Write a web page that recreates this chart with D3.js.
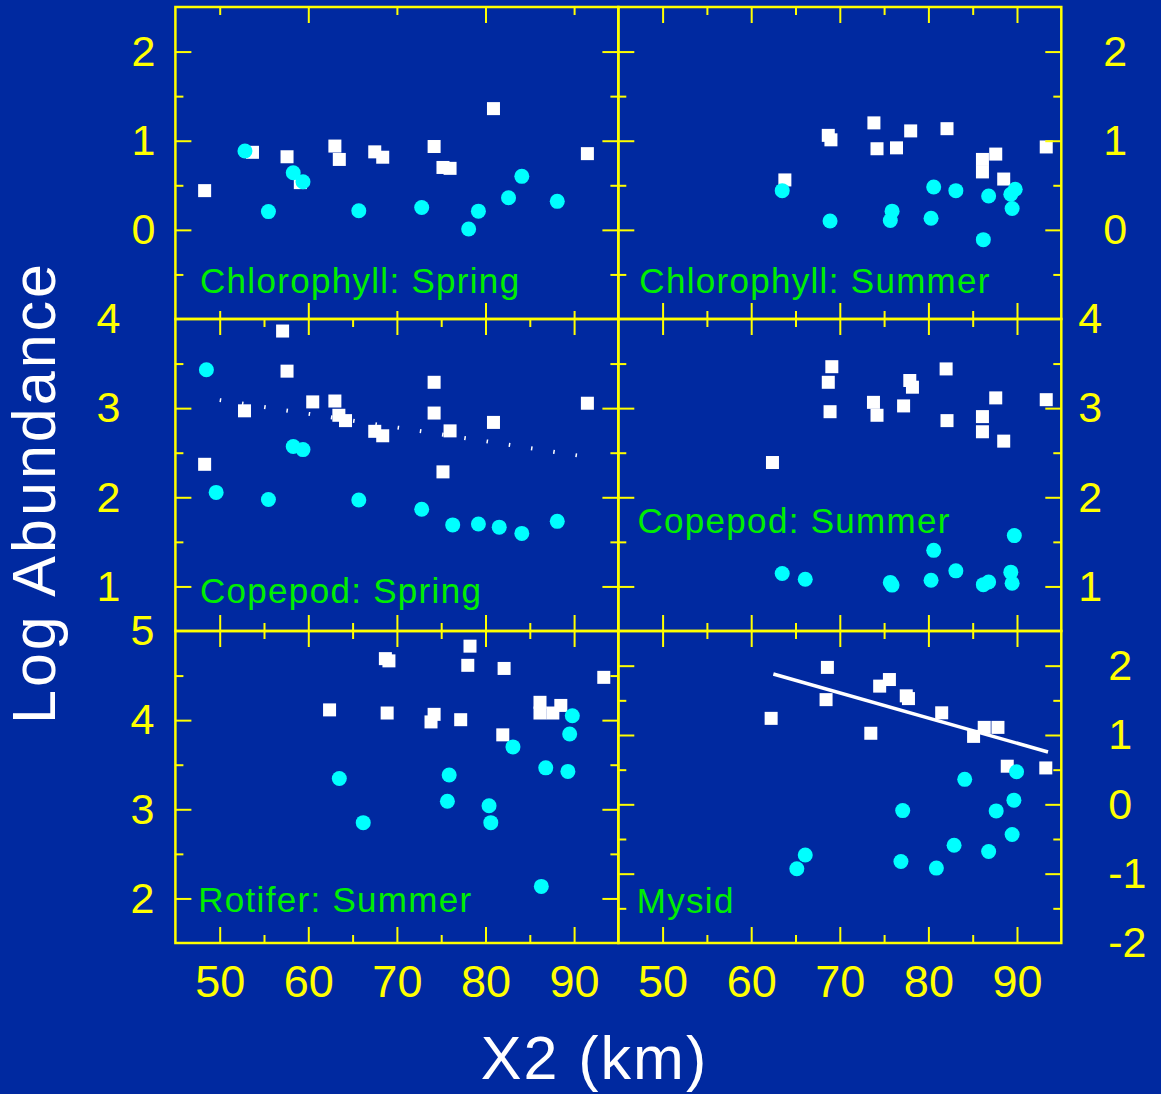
<!DOCTYPE html>
<html><head><meta charset="utf-8">
<script src="https://cdn.jsdelivr.net/npm/d3@7"></script>
<style>html,body{margin:0;padding:0;background:#0029a0;}svg{display:block;}</style>
</head><body>
<script>
// ---------- DATA ----------
const xDomain = [45, 95];
const xMajorTicks = [50, 60, 70, 80, 90];
const xMinorTicks = [55, 65, 75, 85];
const xMajorTicksChlSpring = [60, 80];
const xMinorTicksChlSpring = [50, 70, 90];
const xTickLabels = [50, 60, 70, 80, 90];

const chlDomain = [-1, 2.5];
const chlMajor = [0, 1, 2];
const chlMinor = [-0.5, 0.5, 1.5];
const chlLabels = [0, 1, 2];

const copDomain = [0.5, 4];
const copMajor = [1, 2, 3];
const copMinor = [1.5, 2.5, 3.5];
const copLabels = [1, 2, 3, 4];

const rotDomain = [1.5, 5];
const rotMajor = [2, 3, 4];
const rotMinor = [2.5, 3.5, 4.5];
const rotLabels = [2, 3, 4, 5];

const mysDomain = [-2, 2.5];
const mysMajor = [-1, 0, 1, 2];
const mysMinor = [-1.5, -0.5, 0.5, 1.5];
const mysLabels = [-2, -1, 0, 1, 2];

const chlSpringSquares = [[48.3,0.44],[53.7,0.87],[57.6,0.82],[59.1,0.53],[63.0,0.94],[63.5,0.79],[67.5,0.875],[68.4,0.815],[74.2,0.935],[75.2,0.70],[76.0,0.69],[80.9,1.36],[91.5,0.855]];
const chlSpringCircles = [[52.85,0.885],[55.5,0.205],[58.3,0.64],[59.4,0.54],[65.7,0.215],[72.8,0.25],[78.1,0.01],[79.2,0.21],[82.6,0.36],[84.1,0.60],[88.1,0.32]];

const chlSummerSquares = [[63.8,0.56],[68.7,1.06],[69.0,1.01],[73.85,1.20],[74.2,0.91],[76.4,0.92],[78.0,1.11],[82.1,1.135],[86.1,0.79],[86.1,0.65],[87.6,0.85],[88.5,0.57],[93.3,0.93]];
const chlSummerCircles = [[63.5,0.44],[68.9,0.10],[75.9,0.21],[75.7,0.105],[80.3,0.13],[80.6,0.48],[83.1,0.44],[86.2,-0.11],[86.8,0.38],[89.3,0.40],[89.8,0.455],[89.45,0.24]];

const copSpringSquares = [[57.1,3.865],[57.6,3.415],[48.3,2.37],[52.8,2.97],[60.5,3.07],[63.0,3.08],[63.45,2.92],[64.2,2.86],[67.5,2.74],[68.4,2.69],[74.2,3.29],[74.2,2.945],[75.2,2.285],[76.0,2.745],[80.9,2.84],[91.5,3.055]];
const copSpringCircles = [[48.5,3.43],[49.6,2.055],[55.5,1.975],[58.3,2.57],[59.4,2.535],[65.7,1.97],[72.8,1.865],[76.3,1.69],[79.2,1.70],[81.55,1.665],[84.1,1.595],[88.1,1.73]];
const copSpringFit = [[50, 3.09], [91, 2.46]];

const copSummerSquares = [[62.4,2.39],[69.1,3.465],[68.7,3.29],[68.9,2.96],[73.8,3.065],[74.2,2.92],[77.9,3.31],[78.2,3.235],[77.2,3.025],[82.0,3.44],[82.1,2.86],[86.1,2.905],[86.1,2.735],[87.6,3.115],[88.5,2.63],[93.3,3.095]];
const copSummerCircles = [[63.5,1.145],[66.1,1.08],[75.7,1.045],[75.9,1.015],[80.3,1.07],[80.6,1.405],[83.1,1.175],[86.2,1.02],[86.8,1.05],[89.3,1.16],[89.45,1.035],[89.7,1.57]];

const rotSummerSquares = [[62.4,4.115],[68.7,4.69],[69.1,4.665],[68.9,4.08],[74.2,4.065],[73.85,3.98],[77.2,4.005],[78.25,4.83],[78.0,4.615],[82.1,4.58],[81.95,3.835],[86.15,4.20],[86.15,4.08],[87.6,4.08],[88.5,4.165],[93.35,4.48]];
const rotSummerCircles = [[63.5,3.345],[66.2,2.85],[75.9,3.385],[75.7,3.09],[80.4,3.04],[80.6,2.85],[83.1,3.70],[86.8,3.465],[86.3,2.135],[89.3,3.425],[89.5,3.845],[89.8,4.05]];

const mysidSquares = [[62.25,1.24],[68.6,1.975],[68.45,1.51],[73.5,1.025],[74.5,1.705],[75.6,1.80],[77.5,1.565],[77.75,1.525],[81.5,1.32],[85.1,0.98],[86.3,1.11],[87.85,1.11],[88.9,0.55],[93.25,0.525]];
const mysidCircles = [[66.1,-0.73],[65.15,-0.93],[77.1,-0.09],[76.9,-0.825],[80.9,-0.92],[82.9,-0.59],[84.1,0.36],[86.8,-0.68],[87.65,-0.095],[89.45,-0.435],[89.65,0.06],[89.95,0.47]];
const mysidFit = [[62.5, 1.88], [93.5, 0.755]];

// ---------- LAYOUT / STYLE ----------
const W = 1161, H = 1094;
const colX = [175.4, 618.3], panelW = 443;
const rowY = [7, 319, 631], panelH = 312;
const YELLOW = "#ffff00", GREEN = "#00ee00", CYAN = "#00ffff", WHITE = "#ffffff";
const FONT = "'Liberation Sans', Arial, Helvetica, sans-serif";

const panels = [
  {title:"Chlorophyll: Spring", col:0, row:0, dom:chlDomain, maj:chlMajor, min:chlMinor, lab:chlLabels, side:"left", pad:20,
   xMaj:xMajorTicksChlSpring, xMin:xMinorTicksChlSpring, sq:chlSpringSquares, ci:chlSpringCircles, tx:24.6, ty:286},
  {title:"Chlorophyll: Summer", col:1, row:0, dom:chlDomain, maj:chlMajor, min:chlMinor, lab:chlLabels, side:"right", pad:42,
   xMaj:xMajorTicks, xMin:xMinorTicks, sq:chlSummerSquares, ci:chlSummerCircles, tx:21, ty:286.3},
  {title:"Copepod: Spring", col:0, row:1, dom:copDomain, maj:copMajor, min:copMinor, lab:copLabels, side:"left", pad:55,
   xMaj:xMajorTicks, xMin:xMinorTicks, sq:copSpringSquares, ci:copSpringCircles, tx:24.6, ty:283.7, dotted:copSpringFit},
  {title:"Copepod: Summer", col:1, row:1, dom:copDomain, maj:copMajor, min:copMinor, lab:copLabels, side:"right", pad:17,
   xMaj:xMajorTicks, xMin:xMinorTicks, sq:copSummerSquares, ci:copSummerCircles, tx:19.2, ty:213.7},
  {title:"Rotifer: Summer", col:0, row:2, dom:rotDomain, maj:rotMajor, min:rotMinor, lab:rotLabels, side:"left", pad:21,
   xMaj:xMajorTicks, xMin:xMinorTicks, sq:rotSummerSquares, ci:rotSummerCircles, tx:22.8, ty:280.7, xlab:true},
  {title:"Mysid", col:1, row:2, dom:mysDomain, maj:mysMajor, min:mysMinor, lab:mysLabels, side:"right", pad:47,
   xMaj:xMajorTicks, xMin:xMinorTicks, sq:mysidSquares, ci:mysidCircles, tx:18.5, ty:281.7, solid:mysidFit, xlab:true}
];

const svg = d3.select("body").append("svg").attr("width", W).attr("height", H);
svg.append("rect").attr("width", W).attr("height", H).attr("fill", "#0029a0");

const x = d3.scaleLinear().domain(xDomain).range([0, panelW]);

function ticks(g, axis, size) {
  g.call(axis.tickSize(size).tickFormat(""));
  g.select(".domain").remove();
  g.selectAll(".tick line").attr("stroke", YELLOW).attr("stroke-width", 2);
}

panels.forEach(p => {
  const g = svg.append("g").attr("transform", `translate(${colX[p.col]},${rowY[p.row]})`);
  const y = d3.scaleLinear().domain(p.dom).range([panelH, 0]);

  // markers: squares then circles
  g.append("g").selectAll("rect").data(p.sq).join("rect")
    .attr("x", d => x(d[0]) - 6.5).attr("y", d => y(d[1]) - 6.5)
    .attr("width", 13).attr("height", 13).attr("fill", WHITE);
  if (p.dotted) {
    g.append("path").datum(p.dotted)
      .attr("d", d3.line().x(d => x(d[0])).y(d => y(d[1])))
      .attr("stroke", WHITE).attr("stroke-width", 4).attr("stroke-dasharray", "1.5 21").attr("fill", "none");
  }
  if (p.solid) {
    g.append("path").datum(p.solid)
      .attr("d", d3.line().x(d => x(d[0])).y(d => y(d[1])))
      .attr("stroke", WHITE).attr("stroke-width", 3.5).attr("fill", "none");
  }
  g.append("g").selectAll("circle").data(p.ci).join("circle")
    .attr("cx", d => x(d[0])).attr("cy", d => y(d[1])).attr("r", 7.5).attr("fill", CYAN);

  // inward ticks on all four sides
  ticks(g.append("g"), d3.axisRight(y).tickValues(p.maj), 16);
  ticks(g.append("g"), d3.axisRight(y).tickValues(p.min), 8);
  ticks(g.append("g").attr("transform", `translate(${panelW},0)`), d3.axisLeft(y).tickValues(p.maj), 16);
  ticks(g.append("g").attr("transform", `translate(${panelW},0)`), d3.axisLeft(y).tickValues(p.min), 8);
  ticks(g.append("g"), d3.axisBottom(x).tickValues(p.xMaj), 16);
  ticks(g.append("g"), d3.axisBottom(x).tickValues(p.xMin), 8);
  ticks(g.append("g").attr("transform", `translate(0,${panelH})`), d3.axisTop(x).tickValues(p.xMaj), 16);
  ticks(g.append("g").attr("transform", `translate(0,${panelH})`), d3.axisTop(x).tickValues(p.xMin), 8);

  // border
  g.append("rect").attr("width", panelW).attr("height", panelH)
    .attr("fill", "none").attr("stroke", YELLOW).attr("stroke-width", 2.5);

  // y labels
  const la = (p.side === "left" ? d3.axisLeft(y) : d3.axisRight(y))
    .tickValues(p.lab).tickSize(0).tickPadding(p.pad).tickFormat(d => String(d));
  const lg = g.append("g").attr("transform", p.side === "left" ? "translate(0,0)" : `translate(${panelW},0)`).call(la);
  lg.select(".domain").remove();
  lg.attr("font-family", FONT).attr("font-size", 43);
  lg.selectAll("text").attr("fill", YELLOW);

  // x labels
  if (p.xlab) {
    const xg = g.append("g").attr("transform", `translate(0,${panelH})`)
      .call(d3.axisBottom(x).tickValues(xTickLabels).tickSize(0).tickPadding(22).tickFormat(d => String(d)));
    xg.select(".domain").remove();
    xg.attr("font-family", FONT).attr("font-size", 45);
    xg.selectAll("text").attr("fill", YELLOW);
  }

  // panel title
  g.append("text").attr("x", p.tx).attr("y", p.ty).text(p.title)
    .attr("font-family", FONT).attr("font-size", 35).attr("letter-spacing", 1.3).attr("fill", GREEN);
});

// axis titles
svg.append("text").text("X2 (km)").attr("x", 594.5).attr("y", 1079)
  .attr("text-anchor", "middle").attr("font-family", FONT).attr("font-size", 61)
  .attr("letter-spacing", 2).attr("fill", WHITE);
svg.append("text").text("Log Abundance")
  .attr("transform", "translate(55,492.5) rotate(-90)")
  .attr("text-anchor", "middle").attr("font-family", FONT).attr("font-size", 61)
  .attr("letter-spacing", 3).attr("fill", WHITE);
</script>
</body></html>
